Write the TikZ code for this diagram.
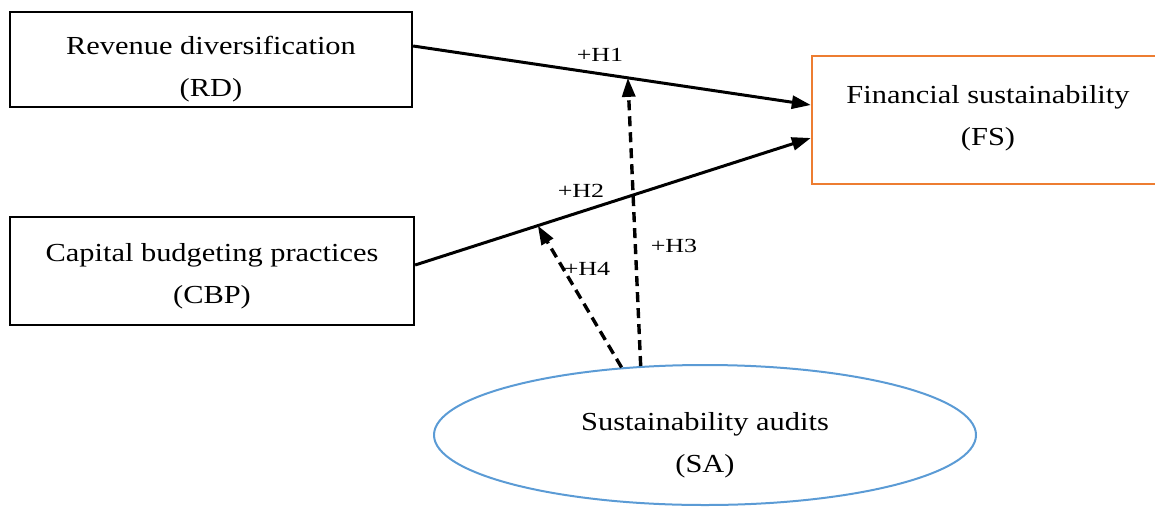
\documentclass[tikz,border=0pt]{standalone}
\usepackage{fontspec}
\setmainfont{Liberation Serif}
\newfontfamily\boxfont[FakeStretch=1.17]{Liberation Serif}
\newfontfamily\lblfont[FakeStretch=1.3]{Liberation Serif}
\usetikzlibrary{arrows.meta,shapes.geometric,calc}
\definecolor{fsorange}{HTML}{ED7D31}
\definecolor{sablue}{HTML}{5B9BD5}
\begin{document}
\begin{tikzpicture}[x=1pt,y=-1pt,
  box/.style={draw=black,line width=2.3pt,rectangle,inner sep=0pt},
  txt/.style={align=center,inner sep=0pt,font=\boxfont\fontsize{26}{42}\selectfont},
  main/.style={line width=3pt,-{Triangle[length=19pt,width=13pt]}},
  moder/.style={line width=3.4pt,dash pattern=on 10pt off 6pt,-{Triangle[length=19pt,width=13pt]}},
  lbl/.style={font=\lblfont\fontsize{20}{22}\selectfont,inner sep=0pt}]
\useasboundingbox (0,0) rectangle (1155,506);
\node[box,minimum width=402pt,minimum height=95pt] (RD) at (211,59.5) {};
\node[txt] (RDt) at (211,69) {Revenue diversification\\(RD)};
\node[box,minimum width=404pt,minimum height=108pt] (CBP) at (212,271) {};
\node[txt] (CBPt) at (212,276) {Capital budgeting practices\\(CBP)};
\node[box,draw=fsorange,line width=2.4pt,minimum width=352pt,minimum height=128pt] (FS) at (988,120) {};
\node[txt] (FSt) at (988,118) {Financial sustainability\\(FS)};
\node[ellipse,draw=sablue,line width=2pt,minimum width=542pt,minimum height=140pt,inner sep=0pt] (SA) at (705,435) {};
\node[txt] (SAt) at (705,445) {Sustainability audits\\(SA)};
\coordinate (RDo) at ([yshift=13.5pt]RD.east);
\coordinate (FSa) at ([yshift=15pt]FS.west);
\coordinate (CBPo) at ([yshift=6pt]CBP.east);
\coordinate (FSb) at ([yshift=-18pt]FS.west);
\draw[main] (RDo) -- (FSa);
\draw[main] (CBPo) -- (FSb);
\coordinate (m1) at ($(RDo)!0.54!(FSa)$);
\coordinate (m2) at ($(CBPo)!0.31!(FSb)$);
\draw[moder] (SA.133) -- (m1);
\draw[moder] (SA.141) -- (m2);
\node[lbl] (h1) at (600,55) {+H1};
\node[lbl] (h2) at (581,191) {+H2};
\node[lbl] (h3) at (674,246) {+H3};
\node[lbl] (h4) at (587,269) {+H4};
\end{tikzpicture}
\end{document}
